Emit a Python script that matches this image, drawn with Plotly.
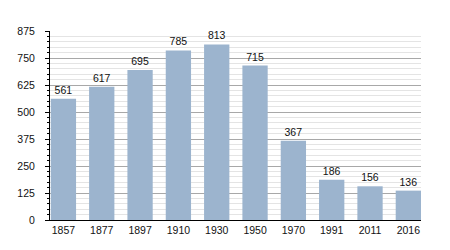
import plotly.graph_objects as go

years = ["1857", "1877", "1897", "1910", "1930", "1950", "1970", "1991", "2011", "2016"]
population = [561, 617, 695, 785, 813, 715, 367, 186, 156, 136]
y_ticks = [0, 125, 250, 375, 500, 625, 750, 875]

fig = go.Figure(go.Bar(
    x=list(range(len(years))),
    y=population,
    marker=dict(color="#9cb4ce", line=dict(width=0)),
    text=[str(v) for v in population],
    textposition="outside",
    textfont=dict(family="Liberation Sans, Arial, sans-serif", size=10.5, color="#111"),
    cliponaxis=False,
    width=0.66,
))

fig.update_layout(
    width=450, height=250,
    margin=dict(l=50, r=29, t=31, b=30),
    paper_bgcolor="white", plot_bgcolor="white",
    showlegend=False,
    font=dict(family="Liberation Sans, Arial, sans-serif", size=10.5, color="#111"),
    xaxis=dict(
        tickmode="array",
        tickvals=list(range(len(years))),
        ticktext=years,
        range=[-0.35, 9.33],
        showgrid=False,
        showline=True, linecolor="black", linewidth=1,
        ticks="", zeroline=False,
        fixedrange=True,
    ),
    yaxis=dict(
        range=[0, 875],
        tickvals=y_ticks,
        showline=True, linecolor="black", linewidth=1,
        ticks="outside", ticklen=4, tickcolor="black", tickwidth=1,
        ticklabelstandoff=8,
        showgrid=True, gridcolor="#a8a8a8", gridwidth=1,
        zeroline=False,
        minor=dict(dtick=25, tick0=0, ticks="outside", ticklen=2, tickcolor="black",
                   showgrid=True, gridcolor="#e4e4e4", gridwidth=1),
        fixedrange=True,
    ),
)

fig.write_html("out.html")
